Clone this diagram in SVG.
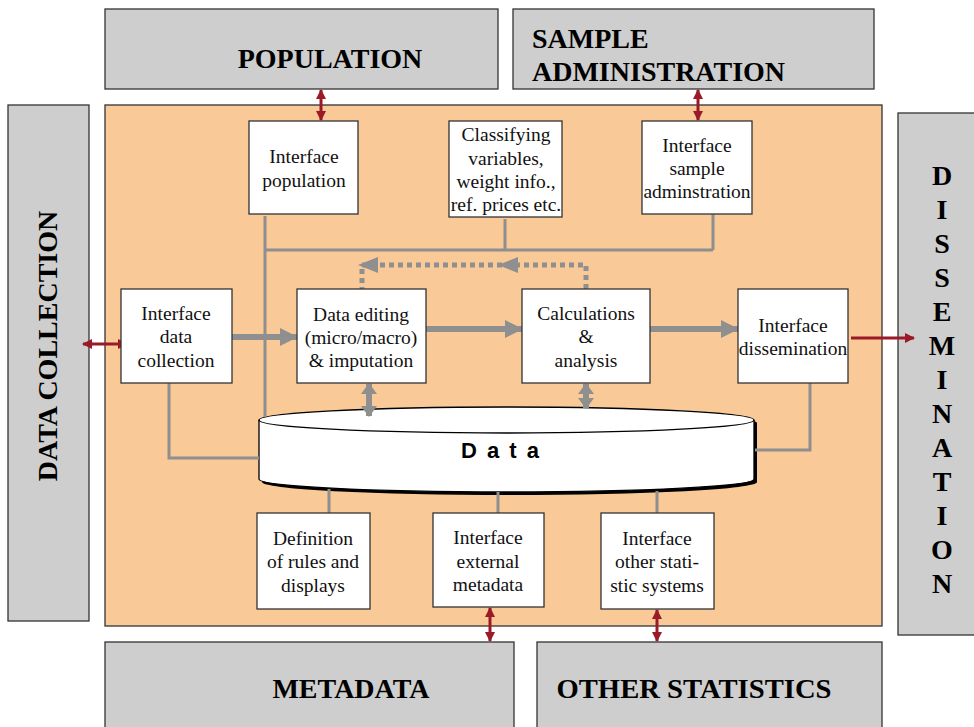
<svg xmlns="http://www.w3.org/2000/svg" width="974" height="727" viewBox="0 0 974 727">
<style>
.outer{fill:#cdcecd;stroke:#333;stroke-width:1.3}
.main{fill:#f9c997;stroke:#333;stroke-width:1.3}
.box{fill:#fff;stroke:#333;stroke-width:1.3}
.big{font-family:"Liberation Serif","Times New Roman",serif;font-weight:bold;font-size:28px;fill:#000}
.t{font-family:"Liberation Serif","Times New Roman",serif;font-size:19.5px;fill:#111;text-anchor:middle}
.thin{fill:none;stroke:#8f8f8f;stroke-width:3}
.thick{fill:none;stroke:#8f8f8f;stroke-width:6}
.red{fill:none;stroke:#9b1a27;stroke-width:3}
.dash{fill:none;stroke:#8f8f8f;stroke-width:5;stroke-dasharray:5 4}
.gh{fill:#8f8f8f}
</style>
<defs>
<marker id="ga" viewBox="0 0 18 18" refX="17" refY="9" markerWidth="18" markerHeight="18" markerUnits="userSpaceOnUse" orient="auto">
<path d="M0,0 L18,9 L0,18 z" fill="#8f8f8f"/>
</marker>
<marker id="gd" viewBox="0 0 11 16" refX="10" refY="8" markerWidth="11" markerHeight="16" markerUnits="userSpaceOnUse" orient="auto-start-reverse">
<path d="M0,0 L11,8 L0,16 z" fill="#8f8f8f"/>
</marker>
<marker id="ra" viewBox="0 0 10 10" refX="9" refY="5" markerWidth="10" markerHeight="10" markerUnits="userSpaceOnUse" orient="auto-start-reverse">
<path d="M0,0 L10,5 L0,10 z" fill="#9b1a27"/>
</marker>
</defs>

<g id="population">
<rect class="outer" x="105" y="9" width="393" height="80"/>
<text class="big" x="330" y="68" text-anchor="middle">POPULATION</text>
</g>
<g id="sample-administration">
<rect class="outer" x="513" y="9" width="361" height="80"/>
<text class="big" x="532" y="48">SAMPLE</text>
<text class="big" x="532" y="81">ADMINISTRATION</text>
</g>
<g id="data-collection">
<rect class="outer" x="8" y="105" width="81" height="516"/>
<text class="big" transform="translate(57,346) rotate(-90)" text-anchor="middle">DATA COLLECTION</text>
</g>
<g id="dissemination">
<rect class="outer" x="898" y="113" width="80" height="522"/>
<g class="big" text-anchor="middle">
<text x="942" y="185">D</text>
<text x="942" y="219">I</text>
<text x="942" y="253">S</text>
<text x="942" y="287">S</text>
<text x="942" y="321">E</text>
<text x="942" y="355">M</text>
<text x="942" y="389">I</text>
<text x="942" y="423">N</text>
<text x="942" y="457">A</text>
<text x="942" y="491">T</text>
<text x="942" y="525">I</text>
<text x="942" y="559">O</text>
<text x="942" y="593">N</text>
</g>
</g>
<g id="metadata">
<rect class="outer" x="105" y="642" width="409" height="90"/>
<text class="big" x="351" y="698" text-anchor="middle">METADATA</text>
</g>
<g id="other-statistics">
<rect class="outer" x="537" y="642" width="345" height="90"/>
<text class="big" x="694" y="698" text-anchor="middle" textLength="275" lengthAdjust="spacingAndGlyphs">OTHER STATISTICS</text>
</g>

<g id="system">
<rect class="main" x="105" y="105" width="777" height="521"/>
</g>

<g id="data">
<path d="M262,423 A247.5,13 0 0 1 757,423 L757,482 A247.5,13 0 0 1 262,482 Z" fill="#000"/>
<path d="M259,420 A247.5,13 0 0 1 754,420 L754,479 A247.5,13 0 0 1 259,479 Z" fill="#fff" stroke="#000" stroke-width="1.3"/>
<path d="M259,420 A247.5,13 0 0 0 754,420" fill="none" stroke="#000" stroke-width="1.3"/>
<text x="501" y="458" text-anchor="middle" font-family="Liberation Sans,Arial,sans-serif" font-weight="bold" font-size="22" letter-spacing="2">D a t a</text>
</g>

<g id="connectors">
<path class="thin" d="M265,216 L265,417 M265,250 L713,250 M505,219 L505,250 M713,214 L713,250"/>
<path class="thin" d="M169,383 L169,458 L259,458"/>
<path class="thin" d="M810,383 L810,450 L755,450"/>
<path class="thin" d="M329,489 L329,513 M498,492 L498,513 M657,491 L657,513"/>
<path class="dash" d="M586,289 L586,265 L362,265 L362,289"/>
<path class="gh" d="M358,265 L378,257 L378,273 z"/>
<path class="gh" d="M498,265 L518,257 L518,273 z"/>
<line class="thick" x1="232" y1="337" x2="297" y2="337" marker-end="url(#ga)"/>
<line class="thick" x1="426" y1="329" x2="522" y2="329" marker-end="url(#ga)"/>
<line class="thick" x1="650" y1="329" x2="738" y2="329" marker-end="url(#ga)"/>
<line class="thick" x1="369" y1="384" x2="369" y2="416" marker-start="url(#gd)" marker-end="url(#gd)"/>
<line class="thick" x1="586" y1="384" x2="586" y2="408" marker-start="url(#gd)" marker-end="url(#gd)"/>
<line class="red" x1="321" y1="90" x2="321" y2="120" marker-start="url(#ra)" marker-end="url(#ra)"/>
<line class="red" x1="698" y1="90" x2="698" y2="120" marker-start="url(#ra)" marker-end="url(#ra)"/>
<line class="red" x1="83" y1="344" x2="127" y2="344" marker-start="url(#ra)" marker-end="url(#ra)"/>
<line class="red" x1="851" y1="338" x2="914" y2="338" marker-end="url(#ra)"/>
<line class="red" x1="490" y1="608" x2="490" y2="641" marker-start="url(#ra)" marker-end="url(#ra)"/>
<line class="red" x1="657" y1="610" x2="657" y2="641" marker-start="url(#ra)" marker-end="url(#ra)"/>
</g>

<g id="interface-population">
<rect class="box" x="249" y="121" width="109" height="93"/>
<text class="t" x="304" y="163">Interface</text>
<text class="t" x="304" y="187">population</text>
</g>
<g id="classifying-variables">
<rect class="box" x="449" y="121" width="113" height="96"/>
<text class="t" x="506" y="141">Classifying</text>
<text class="t" x="506" y="165">variables,</text>
<text class="t" x="506" y="188">weight info.,</text>
<text class="t" x="506" y="211">ref. prices etc.</text>
</g>
<g id="interface-sample-administration">
<rect class="box" x="642" y="121" width="110" height="93"/>
<text class="t" x="697" y="152">Interface</text>
<text class="t" x="697" y="175">sample</text>
<text class="t" x="697" y="198">adminstration</text>
</g>
<g id="interface-data-collection">
<rect class="box" x="121" y="289" width="111" height="94"/>
<text class="t" x="176" y="320">Interface</text>
<text class="t" x="176" y="343">data</text>
<text class="t" x="176" y="367">collection</text>
</g>
<g id="data-editing">
<rect class="box" x="297" y="289" width="129" height="94"/>
<text class="t" x="361" y="321">Data editing</text>
<text class="t" x="361" y="344">(micro/macro)</text>
<text class="t" x="361" y="367">&amp; imputation</text>
</g>
<g id="calculations">
<rect class="box" x="522" y="289" width="128" height="94"/>
<text class="t" x="586" y="320">Calculations</text>
<text class="t" x="586" y="343">&amp;</text>
<text class="t" x="586" y="367">analysis</text>
</g>
<g id="interface-dissemination">
<rect class="box" x="738" y="289" width="110" height="94"/>
<text class="t" x="793" y="332">Interface</text>
<text class="t" x="793" y="355">dissemination</text>
</g>

<g id="definition-rules">
<rect class="box" x="257" y="513" width="113" height="96"/>
<text class="t" x="313" y="545">Definition</text>
<text class="t" x="313" y="568">of rules and</text>
<text class="t" x="313" y="592">displays</text>
</g>
<g id="interface-external-metadata">
<rect class="box" x="433" y="513" width="111" height="94"/>
<text class="t" x="488" y="544">Interface</text>
<text class="t" x="488" y="568">external</text>
<text class="t" x="488" y="591">metadata</text>
</g>
<g id="interface-other-statistic-systems">
<rect class="box" x="601" y="513" width="113" height="96"/>
<text class="t" x="657" y="545">Interface</text>
<text class="t" x="657" y="568">other stati-</text>
<text class="t" x="657" y="592">stic systems</text>
</g>
</svg>
